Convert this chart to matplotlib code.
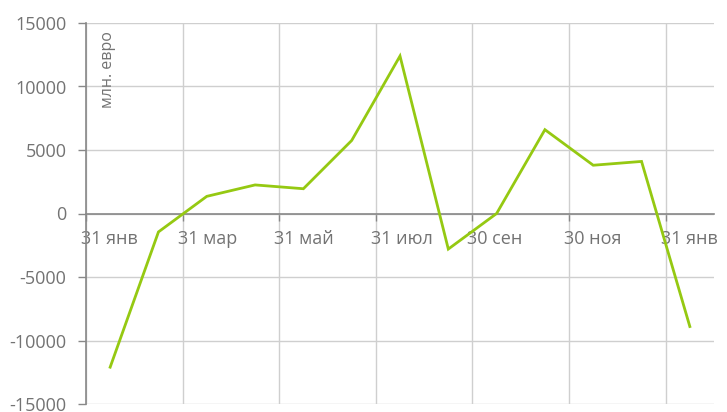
import matplotlib.pyplot as plt
import matplotlib.transforms as mtransforms
import numpy as np

# данные (млн. евро), точки в середине каждого месяца
values = [-12100, -1450, 1350, 2250, 1950, 5750, 12400, -2800, 0, 6600, 3800, 4100, -8900]
x_pos = [i + 0.5 for i in range(len(values))]

tick_pos = [0, 2, 4, 6, 8, 10, 12]
tick_labels = ['31 янв', '31 мар', '31 май', '31 июл', '30 сен', '30 ноя', '31 янв']
y_ticks = [-15000, -10000, -5000, 0, 5000, 10000, 15000]

plt.rcParams['font.family'] = ['Open Sans', 'DejaVu Sans']

fig = plt.figure(figsize=(7.27, 4.12), dpi=100)
ax = fig.add_axes([86 / 727, 1 - 404 / 412, (714 - 86) / 727, (404 - 23) / 412])

ax.plot(x_pos, values, color='#95c912', linewidth=2.0, solid_joinstyle='miter', zorder=3)

ax.set_xlim(0, 13)
ax.set_ylim(-15000, 15000)

# сетка
ax.set_yticks(y_ticks)
ax.set_yticklabels([str(v) for v in y_ticks])
ax.set_xticks(tick_pos)
ax.set_xticklabels(tick_labels)
ax.grid(True, color='#cfcfcf', linewidth=1.0)
ax.set_axisbelow(True)

# оси
for s in ['top', 'right']:
    ax.spines[s].set_visible(False)
ax.spines['left'].set_color('#888888')
ax.spines['bottom'].set_position(('data', 0))
ax.spines['bottom'].set_color('#888888')
ax.spines['bottom'].set_linewidth(1.2)
ax.spines['left'].set_linewidth(1.2)

ax.tick_params(axis='y', colors='#888888', length=6, width=1.0, labelcolor='#737373',
               labelsize=13, pad=8)
ax.tick_params(axis='x', colors='#888888', length=5, width=1.0, labelcolor='#737373',
               labelsize=13, pad=7)

offset = mtransforms.ScaledTranslation(-5 / 100, 0, fig.dpi_scale_trans)
for lbl in ax.get_xticklabels():
    lbl.set_horizontalalignment('left')
    lbl.set_transform(lbl.get_transform() + offset)

ax.text(22 / 628, 0.978, 'млн. евро', transform=ax.transAxes, rotation=90,
        ha='center', va='top', fontsize=11.5, color='#737373')

fig.savefig('out.png', dpi=100)
